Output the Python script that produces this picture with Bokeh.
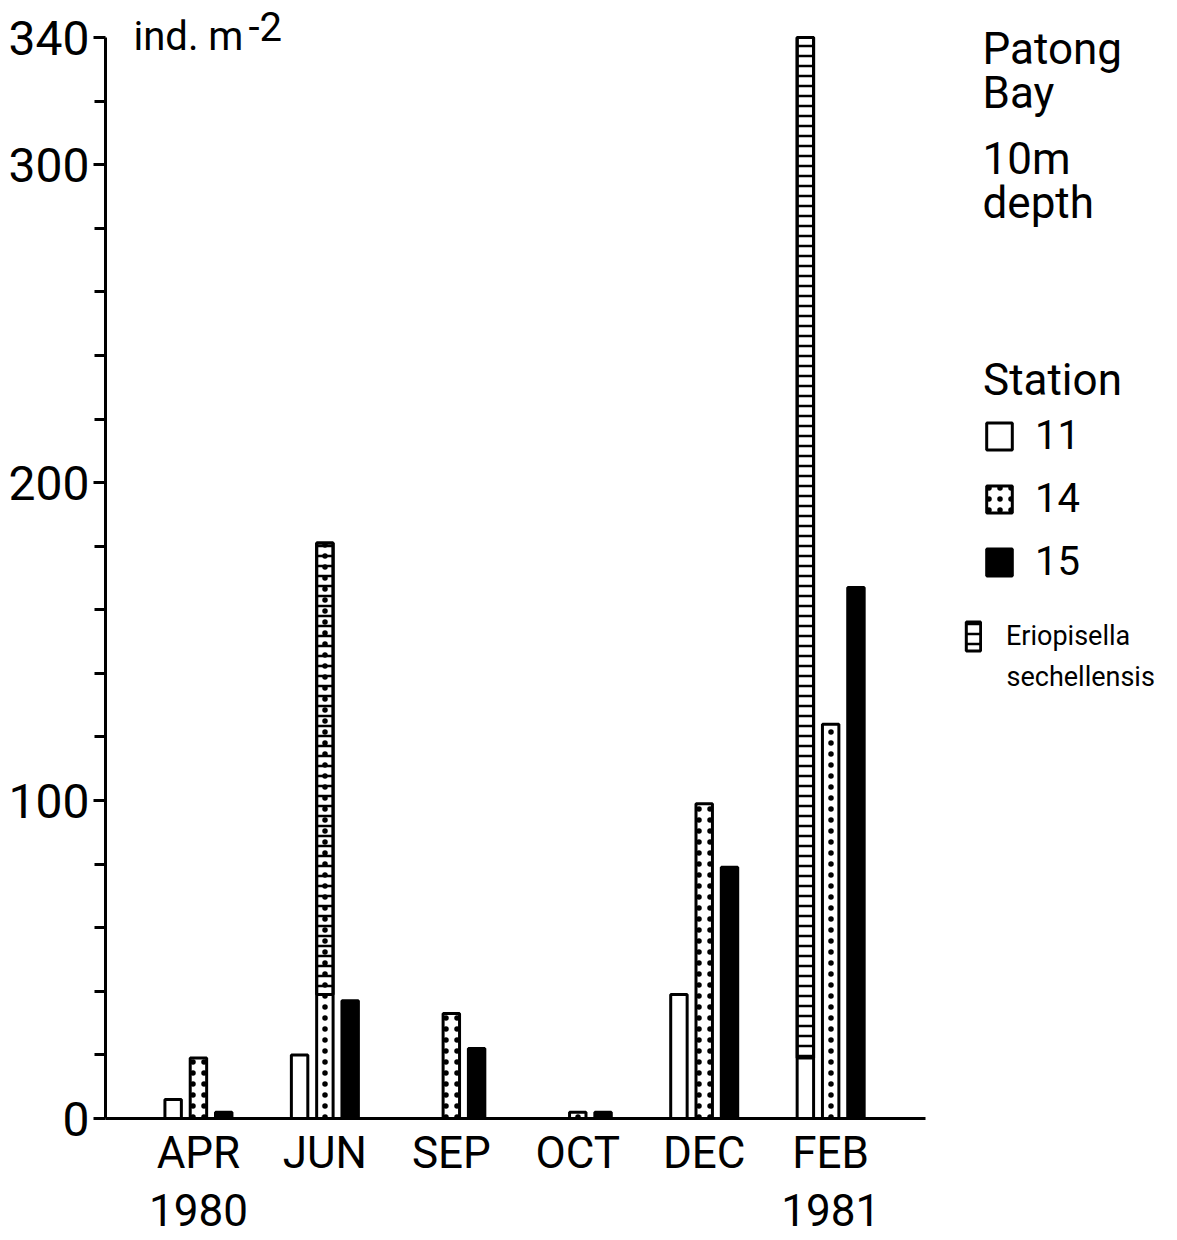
from bokeh.plotting import figure
from bokeh.models import FixedTicker, Label, Legend, LegendItem, Range1d
from bokeh.embed import file_html
from bokeh.resources import INLINE

# ---------------- data ----------------
months = ["APR", "JUN", "SEP", "OCT", "DEC", "FEB"]
years = ["1980", "", "", "", "", "1981"]
station11 = [6, 20, 0, 0, 39, 340]
station14 = [19, 181, 33, 2, 99, 124]
station15 = [2, 37, 22, 2, 79, 167]
# Eriopisella sechellensis share (top part of the bar)
erio11 = [0, 0, 0, 0, 0, 321]
erio14 = [0, 142, 0, 0, 0, 0]
y_major_ticks = [0, 100, 200, 300, 340]
y_minor_ticks = [20, 40, 60, 80, 120, 140, 160, 180, 220, 240, 260, 280, 320]

FONT = "Roboto"
W, H = 1177, 1240
OFF = 0.2
BW = 0.13
LW = 3

idx = list(range(len(months)))
x11 = [i - OFF for i in idx]
x14 = idx
x15 = [i + OFF for i in idx]

X0, X1 = -0.735, 5.75          # extent of the drawn x axis
Y1 = 340
p = figure(width=W, height=H, x_range=Range1d(X0, 7.743), y_range=Range1d(0, 348.5),
           output_backend="svg", toolbar_location=None,
           min_border_left=105, min_border_right=0, min_border_top=10, min_border_bottom=122)
p.outline_line_color = None
p.xgrid.visible = False
p.ygrid.visible = False
p.background_fill_color = "white"
p.border_fill_color = "white"

r11 = p.vbar(x=x11, top=station11, bottom=0, width=BW, fill_color="white",
             line_color="black", line_width=LW)
r14 = p.vbar(x=x14, top=station14, bottom=0, width=BW, fill_color="white",
             line_color="black", line_width=LW,
             hatch_pattern="dot", hatch_color="black", hatch_scale=11, hatch_weight=2.5)
r15 = p.vbar(x=x15, top=station15, bottom=0, width=BW, fill_color="black",
             line_color="black", line_width=LW)

# Eriopisella overlay
ex, etop, ebot = [], [], []
for xs, tot, er in ((x11, station11, erio11), (x14, station14, erio14)):
    for xv, t, e in zip(xs, tot, er):
        if e > 0:
            ex.append(xv)
            etop.append(t)
            ebot.append(t - e)
rer = p.vbar(x=ex, top=etop, bottom=ebot, width=BW, fill_color=None,
             line_color="black", line_width=LW,
             hatch_pattern="horizontal_line", hatch_color="black", hatch_scale=10, hatch_weight=2.5)

# ---------------- axes ----------------
xa = p.xaxis[0]
xa.bounds = (X0, X1)
xa.ticker = FixedTicker(ticks=idx)
xa.major_label_overrides = {i: (m + "\n" + y if y else m) for i, m, y in zip(idx, months, years)}
xa.major_tick_out = 0
xa.major_tick_in = 0
xa.minor_tick_out = 0
xa.axis_line_width = LW
xa.major_label_text_font = FONT
xa.major_label_text_font_size = "44px"
xa.major_label_text_line_height = 1.12
xa.major_label_standoff = 8
xa.major_label_text_color = "black"

ya = p.yaxis[0]
ya.bounds = (0, Y1)
ya.ticker = FixedTicker(ticks=y_major_ticks, minor_ticks=y_minor_ticks)
ya.major_tick_out = 12
ya.major_tick_in = 0
ya.minor_tick_out = 11
ya.minor_tick_in = 0
ya.major_tick_line_width = LW
ya.minor_tick_line_width = LW
ya.axis_line_width = LW
ya.major_label_text_font = FONT
ya.major_label_text_font_size = "48px"
ya.major_label_standoff = 4
ya.major_label_text_color = "black"

SHIFT = 14  # empirical baseline correction

def txt(text, px, py, size, **kw):
    """Label positioned in screen pixels relative to the frame's bottom-left (page coords given)."""
    p.add_layout(Label(x=px - 105, y=1118 - py + SHIFT, x_units="screen", y_units="screen", text=text,
                       text_baseline="alphabetic", text_font=FONT, text_font_size=size,
                       text_color="black", **kw))

# unit label
txt("ind. m", 133, 50, "40px")
txt("-2", 248, 40, "40px")

# site text
txt("Patong", 982, 62, "44px")
txt("Bay", 982, 106, "44px")
txt("10m", 982, 172, "44px")
txt("depth", 982, 216, "44px")

# legends
leg = Legend(items=[LegendItem(label="11", renderers=[r11]),
                    LegendItem(label="14", renderers=[r14]),
                    LegendItem(label="15", renderers=[r15])],
             title="Station", location=(878, 533))
leg.title_text_font = FONT
leg.title_text_font_size = "44px"
leg.title_text_font_style = "normal"
leg.title_text_color = "black"
leg.title_standoff = 6
leg.label_text_font = FONT
leg.label_text_font_size = "40px"
leg.label_text_color = "black"
leg.glyph_width = 32
leg.glyph_height = 34
leg.label_standoff = 20
leg.spacing = 16
leg.padding = 0
leg.margin = 0
leg.border_line_color = None
leg.background_fill_alpha = 0
p.add_layout(leg, "center")

leg2 = Legend(items=[LegendItem(label="Eriopisella", renderers=[rer])],
              location=(859, 464))
leg2.label_text_font = FONT
leg2.label_text_font_size = "27px"
leg2.label_text_color = "black"
leg2.glyph_width = 18
leg2.glyph_height = 36
leg2.label_standoff = 24
leg2.padding = 0
leg2.margin = 0
leg2.border_line_color = None
leg2.background_fill_alpha = 0
p.add_layout(leg2, "center")
txt("sechellensis", 1006, 690, "27px")

open("out.html", "w").write(file_html(p, INLINE))
